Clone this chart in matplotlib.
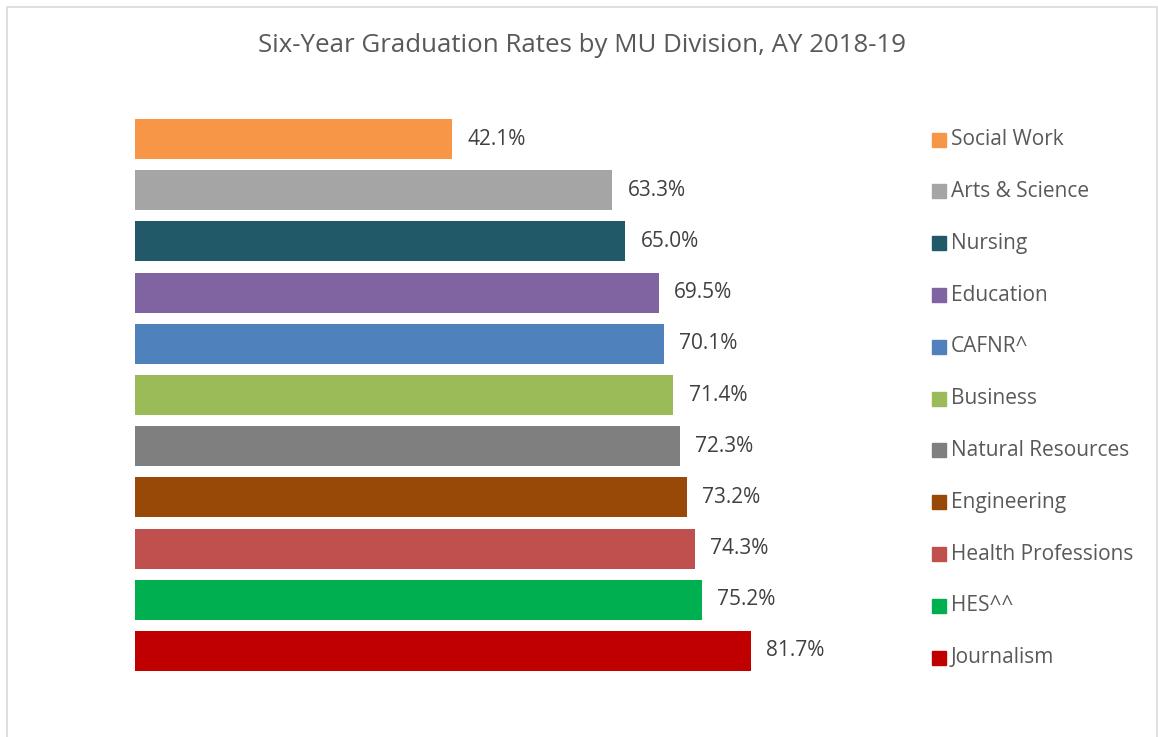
import matplotlib.pyplot as plt
import matplotlib.patches as mpatches

plt.rcParams['font.family'] = ['Open Sans', 'DejaVu Sans']

divisions = ['Social Work', 'Arts & Science', 'Nursing', 'Education', 'CAFNR^',
             'Business', 'Natural Resources', 'Engineering', 'Health Professions',
             'HES^^', 'Journalism']
rates = [42.1, 63.3, 65.0, 69.5, 70.1, 71.4, 72.3, 73.2, 74.3, 75.2, 81.7]
colors = ['#F79646', '#A5A5A5', '#215968', '#8064A2', '#4F81BD', '#9BBB59',
          '#7F7F7F', '#984807', '#C0504D', '#00B050', '#C00000']

text_color = '#595959'
W, H = 1158, 737

fig = plt.figure(figsize=(W / 100, H / 100), dpi=100)

# light chart-area border
fig.patches.append(mpatches.Rectangle((7 / W, -0.01), 1150 / W, 1 - 7 / H + 0.01,
                                      transform=fig.transFigure, fill=False,
                                      edgecolor='#D9D9D9', linewidth=1.2))

# x: 0..100 maps to 135..889 px ; y rows centred 139..651 px
ax = fig.add_axes([135 / W, 1 - 676.6 / H, 754 / W, (676.6 - 113.4) / H])
pos = list(range(len(divisions)))
bars = ax.barh(pos, rates, height=0.78, color=colors)
ax.set_xlim(0, 100)
ax.set_ylim(len(divisions) - 0.5, -0.5)
ax.axis('off')

for y, v in zip(pos, rates):
    ax.annotate('{:.1f}%'.format(v), (v, y), xytext=(11, 0),
                textcoords='offset points', va='center', ha='left',
                fontsize=15, color='#404040')

fig.text(0.5 * (258 + 905) / W, 1 - 46 / H,
         'Six-Year Graduation Rates by MU Division, AY 2018-19',
         ha='center', va='center', fontsize=18.6, color=text_color)

# legend area: rows centred 139.7..657.7 px
lax = fig.add_axes([925 / W, 1 - 683.6 / H, 230 / W, (683.6 - 113.8) / H])
lax.set_xlim(0, 230)
lax.set_ylim(len(divisions) - 0.5, -0.5)
lax.axis('off')
for y, name, c in zip(pos, divisions, colors):
    lax.plot([14], [y], marker='s', markersize=10.2, color=c, linestyle='none')
    lax.text(26, y, name, va='center', ha='left', fontsize=15, color=text_color)

fig.savefig('out.png', dpi=100)
